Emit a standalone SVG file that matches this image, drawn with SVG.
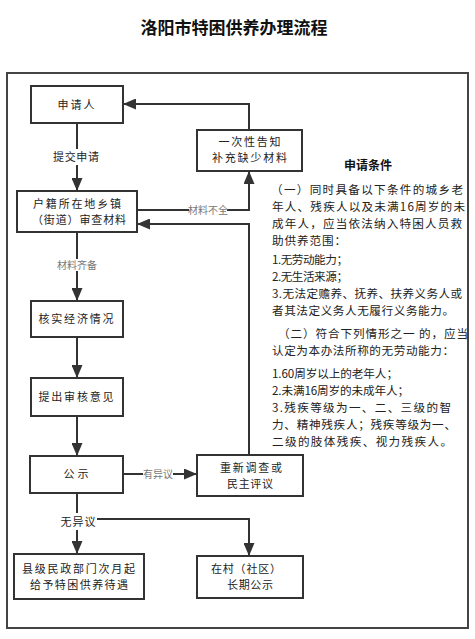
<svg xmlns="http://www.w3.org/2000/svg" width="475" height="639" viewBox="0 0 475 639">
<defs>
<style>
.box{fill:#fff;stroke:#333;stroke-width:2}
.ln{fill:none;stroke:#333;stroke-width:2}
.t{font-family:"Noto Sans CJK SC","Liberation Sans",sans-serif;font-size:11px;fill:#222;text-anchor:middle}
.lbl{font-family:"Noto Sans CJK SC","Liberation Sans",sans-serif;font-size:10px;fill:#777;text-anchor:middle}
.p{font-family:"Noto Sans CJK SC","Liberation Sans",sans-serif;font-size:11.6px;fill:#222}
</style>
<marker id="ar" markerUnits="userSpaceOnUse" markerWidth="13" markerHeight="11" refX="12" refY="5.5" orient="auto">
<path d="M0,0 L13,5.5 L0,11 z" fill="#333"/>
</marker>
</defs>
<rect width="475" height="639" fill="#fff"/>
<text x="234" y="34" font-family="Noto Sans CJK SC,sans-serif" font-size="17" font-weight="bold" text-anchor="middle" fill="#111">洛阳市特困供养办理流程</text>
<rect x="7" y="73" width="461" height="555" fill="none" stroke="#444" stroke-width="2"/>

<g id="connectors">
<path class="ln" d="M77,123 V190" marker-end="url(#ar)"/>
<path class="ln" d="M137,210 H249 V172" marker-end="url(#ar)"/>
<path class="ln" d="M249,130 V104 H124" marker-end="url(#ar)"/>
<path class="ln" d="M249,455 V224 H138" marker-end="url(#ar)"/>
<path class="ln" d="M77,232 V300" marker-end="url(#ar)"/>
<path class="ln" d="M77,337 V377" marker-end="url(#ar)"/>
<path class="ln" d="M77,416 V455" marker-end="url(#ar)"/>
<path class="ln" d="M123,474 H196" marker-end="url(#ar)"/>
<path class="ln" d="M77,493 V553" marker-end="url(#ar)"/>
<path class="ln" d="M77,519 H249 V555" marker-end="url(#ar)"/>
<rect x="52" y="149" width="50" height="16" fill="#fff"/>
<text class="t" x="76" y="161" textLength="46">提交申请</text>
<rect x="189" y="204" width="38" height="12" fill="#fff"/>
<text class="lbl" x="208" y="213.5">材料不全</text>
<rect x="57" y="259" width="40" height="12" fill="#fff"/>
<text class="lbl" x="77" y="268.5" fill="#5a6272">材料齐备</text>
<rect x="143" y="468" width="30" height="12" fill="#fff"/>
<text class="lbl" x="158" y="477.5">有异议</text>
<rect x="59" y="513" width="38" height="17" fill="#fff"/>
<text class="t" x="78" y="526" textLength="35">无异议</text>
</g>

<g id="n-applicant">
<rect class="box" x="31" y="86" width="92" height="37"/>
<text class="t" x="76" y="108.5" textLength="37">申请人</text>
</g>
<g id="n-notify">
<rect class="box" x="197" y="130" width="105" height="41"/>
<text class="t" x="249.5" y="146" textLength="62">一次性告知</text>
<text class="t" x="249.5" y="162" textLength="75">补充缺少材料</text>
</g>
<g id="n-review">
<rect class="box" x="17" y="191" width="120" height="41"/>
<text class="t" x="77" y="207.5" textLength="88">户籍所在地乡镇</text>
<text class="t" x="79" y="223.5" textLength="94">（街道）审查材料</text>
</g>
<g id="n-verify">
<rect class="box" x="31" y="301" width="92" height="36"/>
<text class="t" x="76" y="323" textLength="75">核实经济情况</text>
</g>
<g id="n-opinion">
<rect class="box" x="31" y="378" width="92" height="38"/>
<text class="t" x="76" y="401" textLength="75">提出审核意见</text>
</g>
<g id="n-publicity">
<rect class="box" x="30" y="456" width="93" height="37"/>
<text class="t" x="76" y="478" textLength="25">公示</text>
</g>
<g id="n-reinvestigate">
<rect class="box" x="197" y="455" width="106" height="41"/>
<text class="t" x="251" y="471.5" textLength="62">重新调查或</text>
<text class="t" x="250" y="487.5" textLength="46">民主评议</text>
</g>
<g id="n-grant">
<rect class="box" x="14" y="554" width="130" height="45"/>
<text class="t" x="78.5" y="573" textLength="113">县级民政部门次月起</text>
<text class="t" x="79" y="589" textLength="98">给予特困供养待遇</text>
</g>
<g id="n-longterm">
<rect class="box" x="197" y="556" width="106" height="42"/>
<text class="t" x="246" y="573" textLength="70">在村（社区）</text>
<text class="t" x="250" y="589" textLength="46">长期公示</text>
</g>

<g id="conditions">
<text x="368" y="169.5" font-family="Noto Sans CJK SC,sans-serif" font-size="12" font-weight="bold" text-anchor="middle" fill="#111">申请条件</text>
<text class="p" x="271" y="194" textLength="192">（一）同时具备以下条件的城乡老</text>
<text class="p" x="272" y="211" textLength="193">年人、残疾人以及未满16周岁的未</text>
<text class="p" x="272" y="228" textLength="190">成年人，应当依法纳入特困人员救</text>
<text class="p" x="272" y="245" textLength="74">助供养范围：</text>
<text class="p" x="272" y="263.5" textLength="76">1.无劳动能力；</text>
<text class="p" x="272" y="280.5" textLength="76">2.无生活来源；</text>
<text class="p" x="272" y="297.5" textLength="190">3.无法定赡养、抚养、扶养义务人或</text>
<text class="p" x="272" y="314.5" textLength="182">者其法定义务人无履行义务能力。</text>
<text class="p" x="278" y="337.5" textLength="190">（二）符合下列情形之一 的，应当</text>
<text class="p" x="272" y="354.5" textLength="182">认定为本办法所称的无劳动能力：</text>
<text class="p" x="272" y="377.5" textLength="126">1.60周岁以上的老年人；</text>
<text class="p" x="272" y="394.5" textLength="137">2.未满16周岁的未成年人；</text>
<text class="p" x="272" y="412" textLength="179">3.残疾等级为一、二、三级的智</text>
<text class="p" x="272" y="429" textLength="184">力、精神残疾人；残疾等级为一、</text>
<text class="p" x="272" y="446" textLength="180">二级的肢体残疾、视力残疾人。</text>
</g>
</svg>
